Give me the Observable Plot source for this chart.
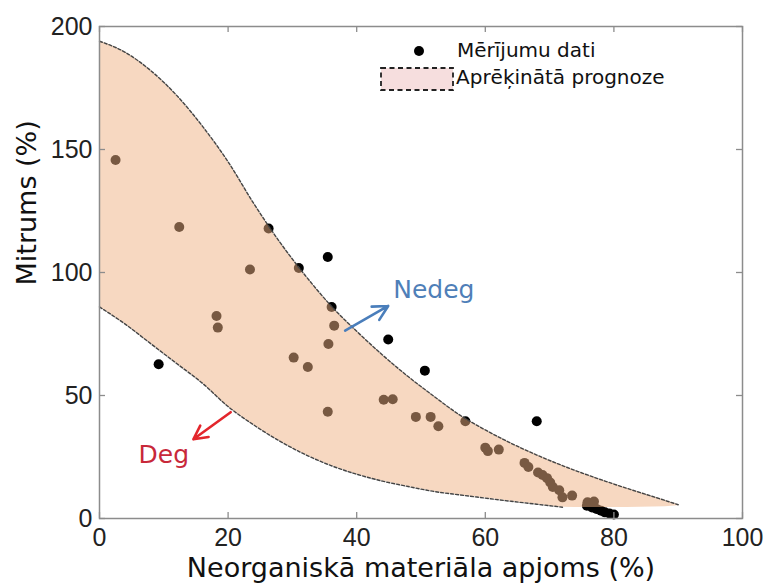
<!DOCTYPE html>
<html><head><meta charset="utf-8">
<script src="https://cdn.jsdelivr.net/npm/d3@7"></script>
<script src="https://cdn.jsdelivr.net/npm/@observablehq/plot@0.6"></script>
<style>
body{margin:0;background:#fff;}
#wrap{position:relative;width:763px;height:583px;overflow:hidden;}
#legend{position:absolute;left:0;top:0;pointer-events:none;}
</style></head><body><div id="wrap"></div>
<script>
// Measured data (Mērījumu dati)
const measX = [2.5,9.2,12.4,18.2,18.4,23.4,26.3,30.2,31,32.4,35.5,35.6,35.5,36.1,36.5,44.9,44.2,45.6,49.2,51.5,52.7,50.6,56.9,68,60,60.4,62.1,66.1,66.7,68.2,68.9,69.6,70.1,70.5,71.5,72,73.5,75.9,76.9,75.8,76.6,77.3,78,78.6,79.3,80];
const measY = [145.7,62.7,118.5,82.3,77.6,101.2,117.9,65.4,101.8,61.6,106.3,70.9,43.4,86,78.4,72.8,48.3,48.5,41.3,41.3,37.5,60.1,39.5,39.5,28.8,27.4,28,22.6,20.9,18.7,17.7,16.4,14.6,12.8,11.5,8.6,9.3,6.6,6.9,5.2,4.5,3.9,3.2,2.5,2,1.6];

// Predicted band (Aprēķinātā prognoze)
const bandX     = [0,4,8,12,16,20,24,28,32,36,40,44,48,52,56,60,64,68,72,76,80,84,88,90];
const bandUpper = [194,189.5,182,172,159.5,145,128,112.5,98.8,86.5,76.1,66.5,57.7,49.7,42.1,36,30.6,25.8,21.5,17.6,14,10.6,7.3,5.6];
const bandLower = [86,79,71,63,55,45.5,38,31.5,26,21.5,18,15.2,13,11,9.6,8.3,7,5.8,4.6,4.5,4.5,4.6,4.8,5.2];
const lowerLineMaxX = 72;

const xTicks = [0,20,40,60,80,100];
const yTicks = [0,50,100,150,200];
const xLabel = "Neorganiskā materiāla apjoms (%)";
const yLabel = "Mitrums (%)";
const legendLabels = ["Mērījumu dati", "Aprēķinātā prognoze"];

// annotations
const annotations = [
  {text: "Nedeg", x: 52, y: 93, x1: 38.2, y1: 76.4, x2: 44.9, y2: 86.4, color: "#4f7fb8", arrow: "#4a7ebb"},
  {text: "Deg", x: 10, y: 25.7, x1: 20.4, y1: 43.2, x2: 14.6, y2: 32.2, color: "#c8283a", arrow: "#e3262c"}
];

const band = bandX.map((x, i) => ({x, lo: bandLower[i], hi: bandUpper[i]}));
const meas = measX.map((x, i) => ({x, y: measY[i]}));

const W = 763, H = 583, mL = 99, mR = 21, mT = 26, mB = 65;
const pw = W - mL - mR, ph = H - mT - mB;
const axisGray = "#8c8c8c";

const chart = Plot.plot({
  width: W, height: H,
  marginLeft: mL, marginRight: mR, marginTop: mT, marginBottom: mB,
  x: {domain: [0, 100]},
  y: {domain: [0, 200]},
  style: {background: "#fff"},
  marks: [
    Plot.dot(meas, {x: "x", y: "y", r: 5, fill: "#000", stroke: "none"}),
    Plot.areaY(band, {x: "x", y1: "lo", y2: "hi", fill: "rgb(240,178,132)", fillOpacity: 0.5, curve: "monotone-x"}),
    Plot.line(band, {x: "x", y: "hi", stroke: "#444", strokeWidth: 1.4, strokeDasharray: "3,2", curve: "monotone-x"}),
    Plot.line(band.filter(d => d.x <= lowerLineMaxX), {x: "x", y: "lo", stroke: "#444", strokeWidth: 1.4, strokeDasharray: "3,2", curve: "monotone-x"}),
    Plot.frame({stroke: axisGray, strokeWidth: 1.5}),
    // inward ticks
    Plot.tickX(xTicks, {x: d => d, insetTop: ph - 6, stroke: axisGray, strokeWidth: 1.3}),
    Plot.tickX(xTicks, {x: d => d, insetBottom: ph - 6, stroke: axisGray, strokeWidth: 1.3}),
    Plot.tickY(yTicks, {y: d => d, insetRight: pw - 6, stroke: axisGray, strokeWidth: 1.3}),
    Plot.tickY(yTicks, {y: d => d, insetLeft: pw - 6, stroke: axisGray, strokeWidth: 1.3}),
    Plot.axisX({ticks: xTicks, tickSize: 0, tickPadding: 10, fontSize: 25, fontFamily: "Liberation Sans", label: null, fill: "#222"}),
    Plot.axisY({ticks: yTicks, tickSize: 0, tickPadding: 7, fontSize: 25, fontFamily: "Liberation Sans", label: null, fill: "#222"}),
    Plot.text([xLabel], {frameAnchor: "bottom", text: d => d, dy: 50, lineAnchor: "middle", fontSize: 27, fontFamily: "DejaVu Sans", fill: "#111"}),
    Plot.text([yLabel], {frameAnchor: "left", text: d => d, dx: -72, dy: 13, rotate: -90, lineAnchor: "middle", fontSize: 27, fontFamily: "DejaVu Sans", fill: "#111"}),
    // annotations
    Plot.arrow(annotations, {x1: "x1", y1: "y1", x2: "x2", y2: "y2", stroke: "arrow", strokeWidth: 2.6, headLength: 13, headAngle: 55}),
    Plot.text(annotations, {x: "x", y: "y", text: "text", fill: "color", fontSize: 25, fontFamily: "DejaVu Sans", lineAnchor: "middle"})
  ]
});

const wrap = document.getElementById("wrap");
wrap.appendChild(chart);

// legend overlay
const ns = "http://www.w3.org/2000/svg";
const leg = document.createElementNS(ns, "svg");
leg.setAttribute("id", "legend");
leg.setAttribute("width", W);
leg.setAttribute("height", H);
leg.innerHTML = `
  <circle cx="419" cy="51" r="5" fill="#000"/>
  <rect x="381" y="68" width="72" height="22" fill="#f6dede" stroke="#222" stroke-width="1.8" stroke-dasharray="5,3.5"/>
  <text x="457" y="57" font-family="DejaVu Sans" font-size="20" fill="#111">${legendLabels[0]}</text>
  <text x="456" y="84" font-family="DejaVu Sans" font-size="20" fill="#111">${legendLabels[1]}</text>`;
wrap.appendChild(leg);
</script>
</body></html>
